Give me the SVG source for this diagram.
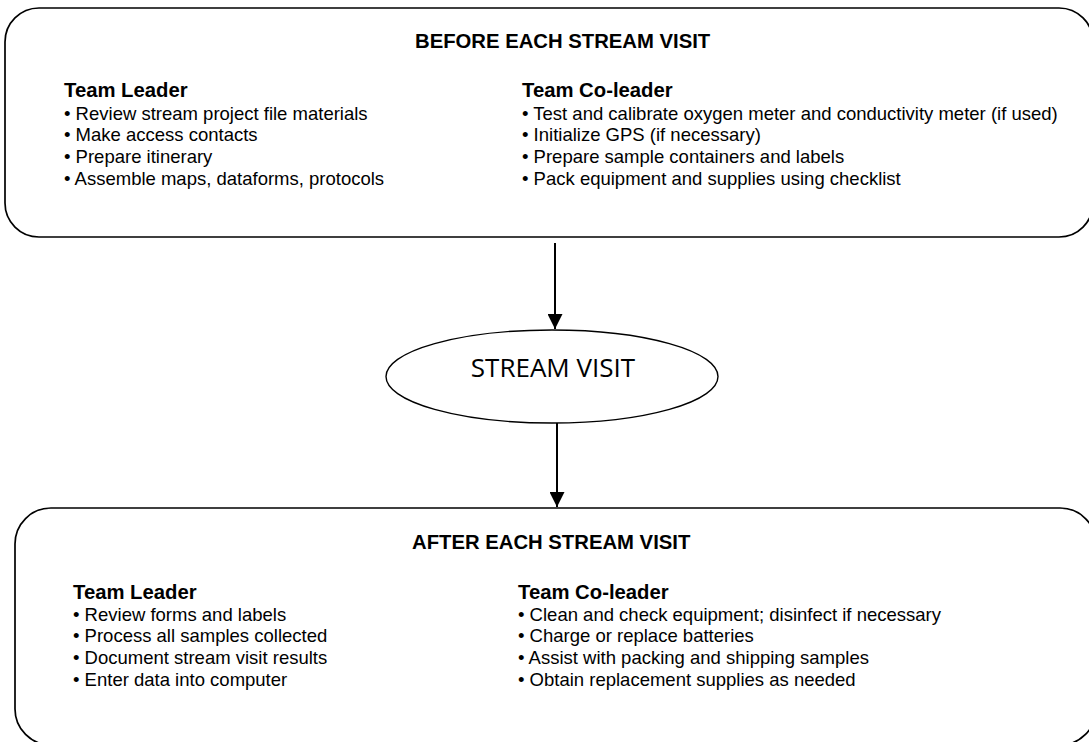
<svg xmlns="http://www.w3.org/2000/svg" width="1089" height="742" viewBox="0 0 1089 742">
<style>
.box{fill:#fff;stroke:#000;stroke-width:1.7}
.hd{font-family:"Liberation Sans",Arial,sans-serif;font-weight:bold;font-size:20.3px;fill:#000}
.sub{font-family:"Liberation Sans",Arial,sans-serif;font-weight:bold;font-size:20.3px;fill:#000}
.it{font-family:"Liberation Sans",Arial,sans-serif;font-size:18.5px;fill:#000}
.conn{stroke:#000;stroke-width:2;fill:none}
.ov{font-family:"Open Sans","Liberation Sans",sans-serif;font-size:26px;fill:#000}
</style>
<defs>
<marker id="ah" viewBox="0 0 10 10" refX="10" refY="5" markerWidth="7.5" markerHeight="7.5" markerUnits="strokeWidth" orient="auto">
<path d="M0,0 L10,5 L0,10 z" fill="#000"/>
</marker>
</defs>
<g id="connectors">
<line class="conn" x1="555" y1="243" x2="555" y2="329" marker-end="url(#ah)"/>
<line class="conn" x1="557" y1="423" x2="557" y2="507" marker-end="url(#ah)"/>
</g>
<g id="before">
<rect class="box" x="5" y="8" width="1088" height="229" rx="34" ry="34"/>
<text class="hd" x="415" y="48">BEFORE EACH STREAM VISIT</text>
<text class="sub" x="64" y="97">Team Leader</text>
<text class="it" x="64" y="119.5">• Review stream project file materials</text>
<text class="it" x="64" y="141.2">• Make access contacts</text>
<text class="it" x="64" y="163">• Prepare itinerary</text>
<text class="it" x="64" y="184.7">• Assemble maps, dataforms, protocols</text>
<text class="sub" x="522" y="97">Team Co-leader</text>
<text class="it" x="522" y="119.5">• Test and calibrate oxygen meter and conductivity meter (if used)</text>
<text class="it" x="522" y="141.2">• Initialize GPS (if necessary)</text>
<text class="it" x="522" y="163">• Prepare sample containers and labels</text>
<text class="it" x="522" y="184.7">• Pack equipment and supplies using checklist</text>
</g>
<g id="visit">
<ellipse cx="552" cy="376.5" rx="166" ry="46.5" fill="#fff" stroke="#000" stroke-width="1.4"/>
<text class="ov" x="553" y="377" text-anchor="middle">STREAM VISIT</text>
</g>
<g id="after">
<rect class="box" x="15" y="508" width="1081" height="237" rx="36" ry="36"/>
<text class="hd" x="412" y="549">AFTER EACH STREAM VISIT</text>
<text class="sub" x="73" y="599">Team Leader</text>
<text class="it" x="73" y="620.7">• Review forms and labels</text>
<text class="it" x="73" y="642.4">• Process all samples collected</text>
<text class="it" x="73" y="664">• Document stream visit results</text>
<text class="it" x="73" y="685.7">• Enter data into computer</text>
<text class="sub" x="518" y="599">Team Co-leader</text>
<text class="it" x="518" y="620.7">• Clean and check equipment; disinfect if necessary</text>
<text class="it" x="518" y="642.4">• Charge or replace batteries</text>
<text class="it" x="518" y="664">• Assist with packing and shipping samples</text>
<text class="it" x="518" y="685.7">• Obtain replacement supplies as needed</text>
</g>
</svg>
